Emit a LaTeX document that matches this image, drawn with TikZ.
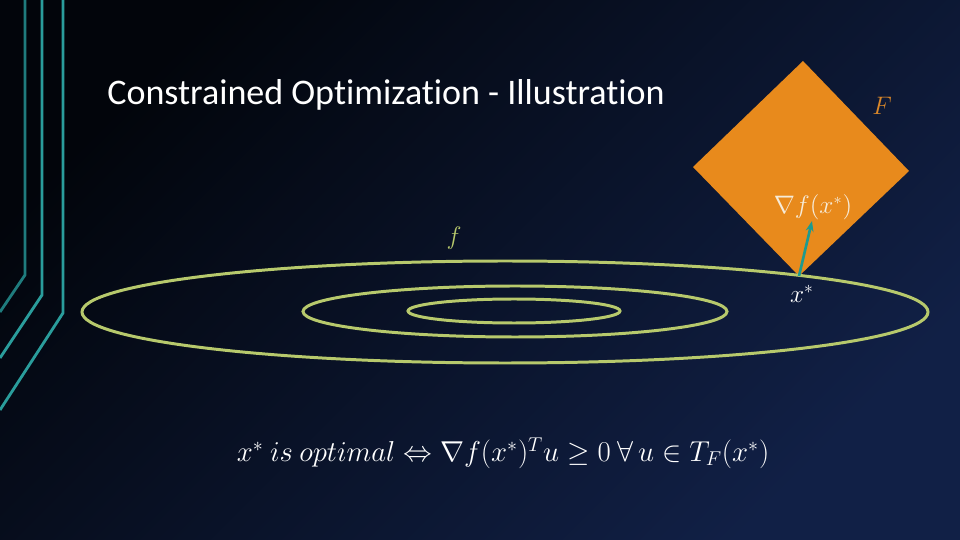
\documentclass[tikz,border=0pt]{standalone}
\usepackage{amsmath}
\usepackage{fontspec}
\setmainfont[Ligatures=NoCommon]{Carlito}
\usetikzlibrary{positioning, arrows.meta}

\definecolor{bgtop}{HTML}{02050B}
\definecolor{bgmid}{HTML}{030A18}
\definecolor{bgbot}{HTML}{112046}
\definecolor{tealA}{HTML}{1F7C7E}
\definecolor{tealB}{HTML}{2A9D9C}
\definecolor{lev}{HTML}{B7C96C}
\definecolor{setF}{HTML}{E88A1C}
\definecolor{labF}{HTML}{D98729}
\definecolor{cream}{HTML}{F6EBD8}
\definecolor{gradc}{HTML}{1E9A8E}

\begin{document}
\begin{tikzpicture}[x=0.02cm, y=-0.02cm,
   level/.style={draw=lev, line width=1.7pt},
   deco/.style={line width=1.6pt},
   lab/.style={inner sep=0pt, font=\fontsize{14}{17}\selectfont}]
   % background
   \shade[top color=bgtop, middle color=bgmid, bottom color=bgbot, shading angle=45] (0,0) rectangle (960,540);
   \useasboundingbox (0,0) rectangle (960,540);

   % left decoration lines
   \draw[deco, tealA] (25,0) -- (25,275) -- (0,312);
   \draw[deco, tealB] (42,0) -- (42,295) -- (0,358);
   \draw[deco, tealB] (63,0) -- (63,313) -- (0,410);

   % title
   \node[anchor=base west, inner sep=0pt, text=white, font=\fontsize{20.5}{24}\selectfont]
      (title) at (107,105) {Constrained Optimization - Illustration};

   % feasible set F
   \coordinate (xs) at (799,276);
   \fill[setF] (803,61) -- (909,171) -- (xs) -- (693,167) -- cycle;
   \node[lab, text=labF, font=\fontsize{15}{18}\selectfont] (Flab) at (882,106) {$F$};

   % level sets of f
   \draw[level] (505,312) ellipse [x radius=423, y radius=51];
   \draw[level] (515,311.5) ellipse [x radius=212, y radius=25.5];
   \draw[level] (514,311) ellipse [x radius=106, y radius=12];
   \node[lab, text=lev, font=\fontsize{15}{18}\selectfont] (flab) at (454,238) {$f$};

   % gradient at x*
   \node[lab, text=cream, font=\fontsize{13.5}{16}\selectfont] (grad) at (813,207) {$\nabla f(x^*)$};
   \node[lab, text=white] (xlab) at (802,294) {$x^*$};
   \coordinate (tip) at (812,221);
   \draw[-{Stealth[length=6pt]}, gradc, line width=1.5pt] (xs) -- (tip);

   % optimality condition
   \node[text=white, font=\fontsize{17}{20}\selectfont] (opt) at (503,453)
      {\scalebox{0.948}{$x^*\ is\ optimal \Leftrightarrow \nabla f(x^*)^T u \geq 0\ \forall\, u \in T_F(x^*)$}};
\end{tikzpicture}
\end{document}
